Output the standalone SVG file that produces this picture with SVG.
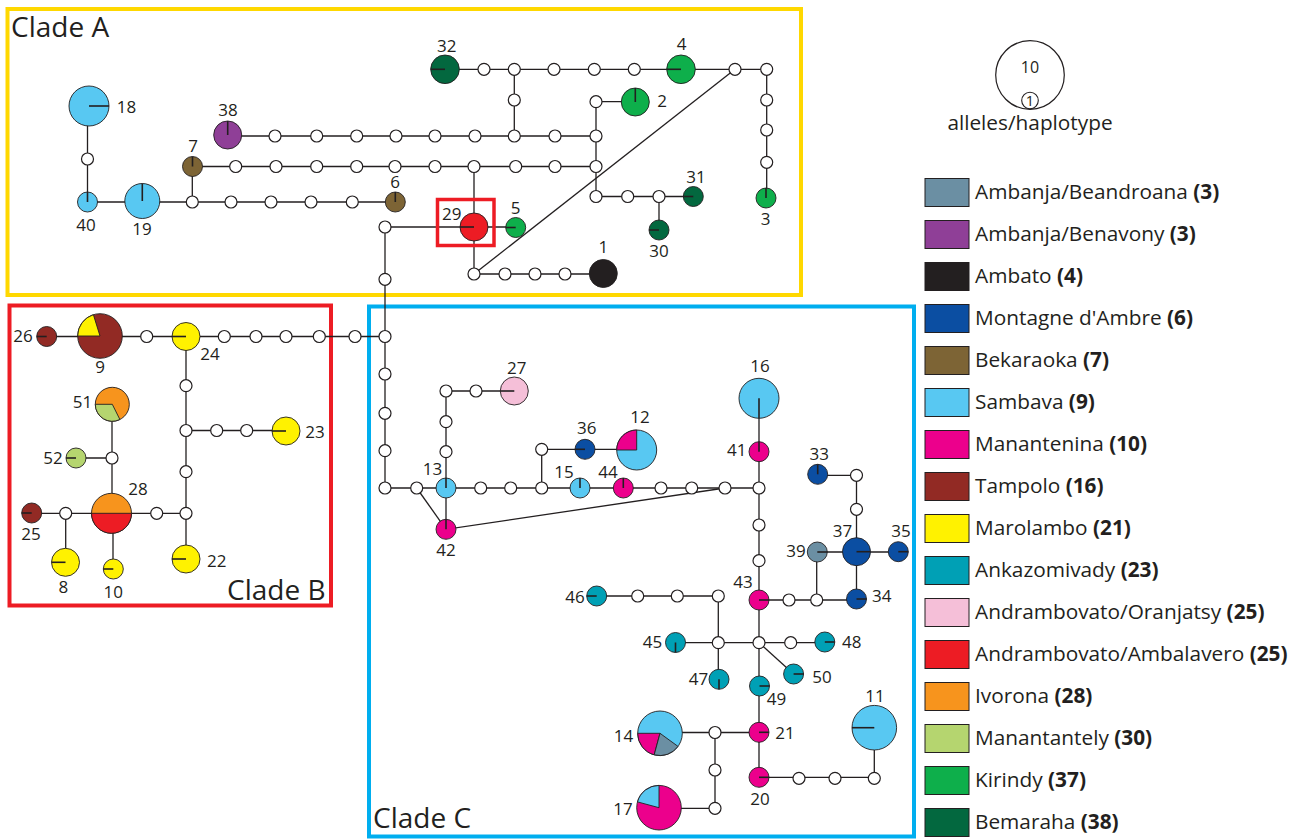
<svg xmlns="http://www.w3.org/2000/svg" xmlns:xlink="http://www.w3.org/1999/xlink" width="1297" height="840" viewBox="0 0 1297 840">
<style>
.c{stroke:#231F20;stroke-width:1.3;fill:none}
.w{fill:#fff;stroke:#231F20;stroke-width:1.2}
.n{stroke:#231F20;stroke-width:0.9}
.t{stroke:#231F20;stroke-width:1.6}
.lb{font-family:"Open Sans","Liberation Sans",sans-serif;font-size:17px;fill:#231F20;text-anchor:middle}
.cl{font-family:"Open Sans","Liberation Sans",sans-serif;font-size:28px;fill:#231F20}
.lg{font-family:"Open Sans","Liberation Sans",sans-serif;font-size:20.8px;fill:#231F20}
.lg tspan{font-weight:bold}
.sw{stroke:#231F20;stroke-width:1}
.bea{fill:#6B8FA3}.ben{fill:#8F3F97}.amb{fill:#231F20}.mon{fill:#0B4EA2}.bek{fill:#7D6435}.sam{fill:#58C8F2}.man{fill:#EC008C}.tam{fill:#922A24}.mar{fill:#FFF200}.ank{fill:#00A0B5}.ora{fill:#F5BFD8}.ama{fill:#ED1C24}.ivo{fill:#F7941D}.mtl{fill:#B5D56F}.kir{fill:#0EAF4B}.bem{fill:#03683F}
</style>
<defs>
<circle id="mv" cx="0" cy="0" r="6" class="w"/>
</defs>

<g id="clade-boxes" fill="none">
<rect x="7.5" y="9" width="793.5" height="286" stroke="#FFD800" stroke-width="4"/>
<rect x="9.5" y="305.5" width="321.5" height="300" stroke="#ED1C24" stroke-width="4"/>
<rect x="369" y="306.5" width="545" height="530" stroke="#00AEEF" stroke-width="4"/>
</g>

<g id="connectors" class="c">
<path d="M87.5,106V202H395.3"/>
<path d="M192.3,202V166.5H596"/>
<path d="M227.7,136H596"/>
<path d="M596,101.7V196.5H693.3"/>
<path d="M596,101.7H635.3"/>
<path d="M659,196.5V230"/>
<path d="M445,69.3H766.7V198"/>
<path d="M514.3,69.3V136"/>
<path d="M474,166.5V274H603.3"/>
<path d="M385,227H515.7"/>
<path d="M474,274L735,69.3"/>
<path d="M385,227V488"/>
<path d="M46.7,336.5H385"/>
<path d="M186,336.5V559"/>
<path d="M186,430.5H286"/>
<path d="M186,513.3H31.7"/>
<path d="M65.7,513.3V562.3"/>
<path d="M113,513.3V569"/>
<path d="M112,404.3V513.3"/>
<path d="M112,458H76"/>
<path d="M385,488H759"/>
<path d="M416.7,488L446,529.3"/>
<path d="M446,488V529.3L725,488"/>
<path d="M446,488V391H514.3"/>
<path d="M541.7,488V449.3H636.7"/>
<path d="M759,398.3V777.3H874.3V727.7"/>
<path d="M759,600H856.5"/>
<path d="M816.7,600V552H898.3"/>
<path d="M856.5,600V475.3H817.7"/>
<path d="M718.3,596H596.7"/>
<path d="M718.3,596V679.3"/>
<path d="M675.5,642.7H824.8"/>
<path d="M759,642.7L793.6,674"/>
<path d="M759,732.5H660"/>
<path d="M715,732.5V808.3H659"/>
</g>

<rect id="highlight-29" x="437.5" y="199.5" width="56.5" height="46" fill="none" stroke="#ED1C24" stroke-width="3.5"/>

<g id="median-vectors">
<use id="m1" xlink:href="#mv" x="87.5" y="159"/>
<use id="m2" xlink:href="#mv" x="192.3" y="202"/>
<use id="m3" xlink:href="#mv" x="231" y="202"/>
<use id="m4" xlink:href="#mv" x="271" y="202"/>
<use id="m5" xlink:href="#mv" x="311" y="202"/>
<use id="m6" xlink:href="#mv" x="352.3" y="202"/>
<use id="m7" xlink:href="#mv" x="235.7" y="166.5"/>
<use id="m8" xlink:href="#mv" x="276" y="166.5"/>
<use id="m9" xlink:href="#mv" x="316.7" y="166.5"/>
<use id="m10" xlink:href="#mv" x="356.7" y="166.5"/>
<use id="m11" xlink:href="#mv" x="395" y="166.5"/>
<use id="m12" xlink:href="#mv" x="435" y="166.5"/>
<use id="m13" xlink:href="#mv" x="474" y="166.5"/>
<use id="m14" xlink:href="#mv" x="515.7" y="166.5"/>
<use id="m15" xlink:href="#mv" x="555" y="166.5"/>
<use id="m16" xlink:href="#mv" x="596" y="166.5"/>
<use id="m17" xlink:href="#mv" x="275" y="136"/>
<use id="m18" xlink:href="#mv" x="316.7" y="136"/>
<use id="m19" xlink:href="#mv" x="356.7" y="136"/>
<use id="m20" xlink:href="#mv" x="396" y="136"/>
<use id="m21" xlink:href="#mv" x="435" y="136"/>
<use id="m22" xlink:href="#mv" x="475" y="136"/>
<use id="m23" xlink:href="#mv" x="514.3" y="136"/>
<use id="m24" xlink:href="#mv" x="555" y="136"/>
<use id="m25" xlink:href="#mv" x="596" y="136"/>
<use id="m26" xlink:href="#mv" x="484" y="69.3"/>
<use id="m27" xlink:href="#mv" x="514.3" y="69.3"/>
<use id="m28" xlink:href="#mv" x="554" y="69.3"/>
<use id="m29" xlink:href="#mv" x="594.3" y="69.3"/>
<use id="m30" xlink:href="#mv" x="634.3" y="69.3"/>
<use id="m31" xlink:href="#mv" x="735" y="69.3"/>
<use id="m32" xlink:href="#mv" x="766.7" y="69.3"/>
<use id="m33" xlink:href="#mv" x="514.3" y="100"/>
<use id="m34" xlink:href="#mv" x="766.7" y="100"/>
<use id="m35" xlink:href="#mv" x="766.7" y="130"/>
<use id="m36" xlink:href="#mv" x="766.7" y="162.3"/>
<use id="m37" xlink:href="#mv" x="596" y="101.7"/>
<use id="m38" xlink:href="#mv" x="596" y="196.5"/>
<use id="m39" xlink:href="#mv" x="627.7" y="196.5"/>
<use id="m40" xlink:href="#mv" x="659" y="196.5"/>
<use id="m41" xlink:href="#mv" x="385" y="227"/>
<use id="m42" xlink:href="#mv" x="385" y="279.3"/>
<use id="m43" xlink:href="#mv" x="474" y="274"/>
<use id="m44" xlink:href="#mv" x="505" y="274"/>
<use id="m45" xlink:href="#mv" x="535" y="274"/>
<use id="m46" xlink:href="#mv" x="565" y="274"/>
<use id="m47" xlink:href="#mv" x="146.7" y="336.5"/>
<use id="m48" xlink:href="#mv" x="224.3" y="336.5"/>
<use id="m49" xlink:href="#mv" x="256" y="336.5"/>
<use id="m50" xlink:href="#mv" x="286" y="336.5"/>
<use id="m51" xlink:href="#mv" x="319.3" y="336.5"/>
<use id="m52" xlink:href="#mv" x="355" y="336.5"/>
<use id="m53" xlink:href="#mv" x="186" y="385.7"/>
<use id="m54" xlink:href="#mv" x="186" y="430.5"/>
<use id="m55" xlink:href="#mv" x="216.7" y="430.5"/>
<use id="m56" xlink:href="#mv" x="246.7" y="430.5"/>
<use id="m57" xlink:href="#mv" x="186" y="471.7"/>
<use id="m58" xlink:href="#mv" x="186" y="513.3"/>
<use id="m59" xlink:href="#mv" x="156.7" y="513.3"/>
<use id="m60" xlink:href="#mv" x="65.7" y="513.3"/>
<use id="m61" xlink:href="#mv" x="112" y="458"/>
<use id="m62" xlink:href="#mv" x="385" y="336.5"/>
<use id="m63" xlink:href="#mv" x="385" y="374"/>
<use id="m64" xlink:href="#mv" x="385" y="413.3"/>
<use id="m65" xlink:href="#mv" x="385" y="450.7"/>
<use id="m66" xlink:href="#mv" x="385" y="488"/>
<use id="m67" xlink:href="#mv" x="416.7" y="488"/>
<use id="m68" xlink:href="#mv" x="480.7" y="488"/>
<use id="m69" xlink:href="#mv" x="510.7" y="488"/>
<use id="m70" xlink:href="#mv" x="541.7" y="488"/>
<use id="m71" xlink:href="#mv" x="661" y="488"/>
<use id="m72" xlink:href="#mv" x="691.7" y="488"/>
<use id="m73" xlink:href="#mv" x="725" y="488"/>
<use id="m74" xlink:href="#mv" x="759" y="488"/>
<use id="m75" xlink:href="#mv" x="446" y="451.7"/>
<use id="m76" xlink:href="#mv" x="446" y="421.7"/>
<use id="m77" xlink:href="#mv" x="446" y="391"/>
<use id="m78" xlink:href="#mv" x="476" y="391"/>
<use id="m79" xlink:href="#mv" x="541.7" y="449.3"/>
<use id="m80" xlink:href="#mv" x="759" y="525"/>
<use id="m81" xlink:href="#mv" x="759" y="560.7"/>
<use id="m82" xlink:href="#mv" x="856.5" y="475.3"/>
<use id="m83" xlink:href="#mv" x="856.5" y="509.3"/>
<use id="m84" xlink:href="#mv" x="789" y="600"/>
<use id="m85" xlink:href="#mv" x="816.7" y="600"/>
<use id="m86" xlink:href="#mv" x="637.7" y="596"/>
<use id="m87" xlink:href="#mv" x="677.3" y="596"/>
<use id="m88" xlink:href="#mv" x="718.3" y="596"/>
<use id="m89" xlink:href="#mv" x="718.3" y="642.7"/>
<use id="m90" xlink:href="#mv" x="759" y="642.7"/>
<use id="m91" xlink:href="#mv" x="790.7" y="642.7"/>
<use id="m92" xlink:href="#mv" x="715" y="732.5"/>
<use id="m93" xlink:href="#mv" x="715" y="770"/>
<use id="m94" xlink:href="#mv" x="715" y="808.3"/>
<use id="m95" xlink:href="#mv" x="799" y="778.3"/>
<use id="m96" xlink:href="#mv" x="835" y="778.3"/>
<use id="m97" xlink:href="#mv" x="874.3" y="778.3"/>
</g>

<g id="h18"><circle class="n sam" cx="89" cy="106" r="20"/><line class="t" x1="89" y1="106" x2="109" y2="106"/><text class="lb" x="126.5" y="112.5">18</text></g>
<g id="h40"><circle class="n sam" cx="87.5" cy="202" r="10"/><line class="t" x1="87.5" y1="202" x2="87.5" y2="192"/><text class="lb" x="86" y="231">40</text></g>
<g id="h19"><circle class="n sam" cx="142.3" cy="201" r="17.5"/><line class="t" x1="142.3" y1="201" x2="142.3" y2="183.5"/><text class="lb" x="142" y="235">19</text></g>
<g id="h7"><circle class="n bek" cx="192.5" cy="166.5" r="10"/><line class="t" x1="192.5" y1="166.5" x2="192.5" y2="156.5"/><text class="lb" x="193" y="152">7</text></g>
<g id="h38"><circle class="n ben" cx="227.7" cy="135" r="14"/><line class="t" x1="227.7" y1="135" x2="227.7" y2="121"/><text class="lb" x="228" y="115.7">38</text></g>
<g id="h6"><circle class="n bek" cx="395.3" cy="202" r="10"/><line class="t" x1="395.3" y1="202" x2="395.3" y2="192"/><text class="lb" x="395" y="188">6</text></g>
<g id="h32"><circle class="n bem" cx="445" cy="69.3" r="14.3"/><line class="t" x1="445" y1="69.3" x2="430.7" y2="69.3"/><text class="lb" x="446.7" y="51.7">32</text></g>
<g id="h4"><circle class="n kir" cx="681" cy="69.3" r="14.3"/><line class="t" x1="681" y1="69.3" x2="666.7" y2="69.3"/><text class="lb" x="681.7" y="50">4</text></g>
<g id="h2"><circle class="n kir" cx="635.3" cy="102" r="14"/><line class="t" x1="635.3" y1="102" x2="635.3" y2="88"/><text class="lb" x="662" y="107">2</text></g>
<g id="h3"><circle class="n kir" cx="766" cy="198" r="10"/><line class="t" x1="766" y1="198" x2="766" y2="188"/><text class="lb" x="765.7" y="225">3</text></g>
<g id="h31"><circle class="n bem" cx="693.3" cy="196.5" r="10"/><line class="t" x1="693.3" y1="196.5" x2="683.3" y2="196.5"/><text class="lb" x="696" y="182.7">31</text></g>
<g id="h30"><circle class="n bem" cx="659" cy="230" r="10"/><line class="t" x1="659" y1="230" x2="649" y2="230"/><text class="lb" x="659" y="257">30</text></g>
<g id="h29"><circle class="n ama" cx="474" cy="227" r="14"/><line class="t" x1="474" y1="227" x2="460" y2="227"/><text class="lb" x="451.7" y="220">29</text></g>
<g id="h5"><circle class="n kir" cx="515.7" cy="227.5" r="10"/><line class="t" x1="515.7" y1="227.5" x2="505.7" y2="227.5"/><text class="lb" x="515.7" y="214">5</text></g>
<g id="h1"><circle class="n amb" cx="603.3" cy="273.5" r="14"/><text class="lb" x="603.3" y="253">1</text></g>

<g id="h26"><circle class="n tam" cx="46.7" cy="336.5" r="10"/><line class="t" x1="46.7" y1="336.5" x2="36.7" y2="336.5"/><text class="lb" x="23" y="341.7">26</text></g>
<g id="h9"><circle class="n tam" cx="100" cy="336" r="22.3"/><path class="n mar" d="M100,336L77.7,336A22.3,22.3 0 0 1 93.4,314.7Z"/><text class="lb" x="100" y="373">9</text></g>
<g id="h24"><circle class="n mar" cx="186" cy="336.5" r="14"/><line class="t" x1="186" y1="336.5" x2="172" y2="336.5"/><text class="lb" x="210" y="360">24</text></g>
<g id="h23"><circle class="n mar" cx="286" cy="431" r="14"/><line class="t" x1="286" y1="431" x2="272" y2="431"/><text class="lb" x="315" y="437.7">23</text></g>
<g id="h51"><circle class="n ivo" cx="112.3" cy="404.3" r="17"/><path class="n mtl" d="M112.3,404.3L119.9,419.5A17,17 0 0 1 95.3,404.3Z"/><text class="lb" x="82.5" y="408.3">51</text></g>
<g id="h52"><circle class="n mtl" cx="76" cy="458" r="10"/><line class="t" x1="76" y1="458" x2="66" y2="458"/><text class="lb" x="53" y="464">52</text></g>
<g id="h28"><circle class="n ivo" cx="111.5" cy="513.3" r="20"/><path class="n ama" d="M91.5,513.3A20,20 0 0 0 131.5,513.3Z"/><text class="lb" x="138" y="495">28</text></g>
<g id="h25"><circle class="n tam" cx="31.7" cy="513" r="10"/><line class="t" x1="31.7" y1="513" x2="21.7" y2="513"/><text class="lb" x="31" y="540">25</text></g>
<g id="h8"><circle class="n mar" cx="65.5" cy="562.3" r="14"/><line class="t" x1="65.5" y1="562.3" x2="51.5" y2="562.3"/><text class="lb" x="63.3" y="593.3">8</text></g>
<g id="h10"><circle class="n mar" cx="113.3" cy="569" r="10"/><line class="t" x1="113.3" y1="569" x2="103.3" y2="569"/><text class="lb" x="113.3" y="598.3">10</text></g>
<g id="h22"><circle class="n mar" cx="186" cy="559" r="14"/><line class="t" x1="186" y1="559" x2="172" y2="559"/><text class="lb" x="216.7" y="566.7">22</text></g>

<g id="h27"><circle class="n ora" cx="514.3" cy="391" r="14"/><line class="t" x1="514.3" y1="391" x2="500.3" y2="391"/><text class="lb" x="516.7" y="374">27</text></g>
<g id="h13"><circle class="n sam" cx="446" cy="488" r="10"/><line class="t" x1="446" y1="488" x2="446" y2="478"/><text class="lb" x="432.5" y="475">13</text></g>
<g id="h15"><circle class="n sam" cx="580" cy="488" r="10"/><line class="t" x1="580" y1="488" x2="580" y2="478"/><text class="lb" x="564" y="478">15</text></g>
<g id="h44"><circle class="n man" cx="623.3" cy="488" r="10"/><line class="t" x1="623.3" y1="488" x2="623.3" y2="478"/><text class="lb" x="608" y="478">44</text></g>
<g id="h42"><circle class="n man" cx="446" cy="529.3" r="10"/><line class="t" x1="446" y1="529.3" x2="446" y2="519.3"/><text class="lb" x="446" y="556">42</text></g>
<g id="h36"><circle class="n mon" cx="585" cy="449.3" r="10"/><line class="t" x1="585" y1="449.3" x2="575" y2="449.3"/><text class="lb" x="586.7" y="434">36</text></g>
<g id="h12"><circle class="n sam" cx="636.7" cy="450" r="20"/><path class="n man" d="M636.7,450L616.7,450A20,20 0 0 1 636.7,430Z"/><text class="lb" x="640" y="423.3">12</text></g>
<g id="h16"><circle class="n sam" cx="759" cy="398.3" r="20"/><line class="t" x1="759" y1="398.3" x2="759" y2="418.3"/><text class="lb" x="760" y="372">16</text></g>
<g id="h41"><circle class="n man" cx="759" cy="451.7" r="10"/><line class="t" x1="759" y1="451.7" x2="759" y2="441.7"/><text class="lb" x="736.7" y="455.7">41</text></g>
<g id="h33"><circle class="n mon" cx="817.7" cy="474.3" r="10"/><line class="t" x1="817.7" y1="474.3" x2="817.7" y2="464.3"/><text class="lb" x="819.3" y="460">33</text></g>
<g id="h37"><circle class="n mon" cx="856.5" cy="551.7" r="14"/><line class="t" x1="856.5" y1="551.7" x2="870.5" y2="551.7"/><text class="lb" x="842.5" y="536.7">37</text></g>
<g id="h35"><circle class="n mon" cx="898.3" cy="551.7" r="10"/><line class="t" x1="898.3" y1="551.7" x2="908.3" y2="551.7"/><text class="lb" x="901" y="536.7">35</text></g>
<g id="h39"><circle class="n bea" cx="817.3" cy="552" r="10"/><line class="t" x1="817.3" y1="552" x2="827.3" y2="552"/><text class="lb" x="796" y="557.3">39</text></g>
<g id="h34"><circle class="n mon" cx="856.5" cy="599" r="10"/><line class="t" x1="856.5" y1="599" x2="866.5" y2="599"/><text class="lb" x="881.7" y="602.3">34</text></g>
<g id="h43"><circle class="n man" cx="759" cy="600" r="10"/><line class="t" x1="759" y1="600" x2="769" y2="600"/><text class="lb" x="743" y="588.3">43</text></g>
<g id="h46"><circle class="n ank" cx="596.7" cy="596" r="10"/><line class="t" x1="596.7" y1="596" x2="586.7" y2="596"/><text class="lb" x="575" y="602.5">46</text></g>
<g id="h45"><circle class="n ank" cx="675.5" cy="642.5" r="10"/><line class="t" x1="675.5" y1="642.5" x2="675.5" y2="652.5"/><text class="lb" x="652.5" y="648">45</text></g>
<g id="h47"><circle class="n ank" cx="719" cy="679.3" r="10"/><line class="t" x1="719" y1="679.3" x2="719" y2="689.3"/><text class="lb" x="698.5" y="684.7">47</text></g>
<g id="h48"><circle class="n ank" cx="824.8" cy="642" r="10"/><line class="t" x1="824.8" y1="642" x2="834.8" y2="642"/><text class="lb" x="851.8" y="647.7">48</text></g>
<g id="h50"><circle class="n ank" cx="793.6" cy="674" r="10"/><line class="t" x1="793.6" y1="674" x2="803.6" y2="674"/><text class="lb" x="822" y="683.3">50</text></g>
<g id="h49"><circle class="n ank" cx="759.5" cy="686" r="10"/><line class="t" x1="759.5" y1="686" x2="769.5" y2="686"/><text class="lb" x="776.5" y="705">49</text></g>
<g id="h21"><circle class="n man" cx="759" cy="732.3" r="10"/><line class="t" x1="759" y1="732.3" x2="769" y2="732.3"/><text class="lb" x="785" y="739">21</text></g>
<g id="h20"><circle class="n man" cx="759" cy="777.3" r="10"/><line class="t" x1="759" y1="777.3" x2="769" y2="777.3"/><text class="lb" x="760" y="805">20</text></g>
<g id="h14"><circle class="n sam" cx="660" cy="733.3" r="22.3"/><path class="n man" d="M660,733.3L654.2,754.8A22.3,22.3 0 0 1 637.7,733.3Z"/><path class="n bea" d="M660,733.3L678,746.4A22.3,22.3 0 0 1 654.2,754.8Z"/><text class="lb" x="623.5" y="741.7">14</text></g>
<g id="h17"><circle class="n man" cx="659" cy="807.7" r="22.3"/><path class="n sam" d="M659,807.7L637.5,801.9A22.3,22.3 0 0 1 659,785.4Z"/><text class="lb" x="623" y="815">17</text></g>
<g id="h11"><circle class="n sam" cx="874.3" cy="727.7" r="22.3"/><line class="t" x1="874.3" y1="727.7" x2="852" y2="727.7"/><text class="lb" x="875" y="701.5">11</text></g>

<g id="clade-labels">
<text class="cl" x="11" y="37">Clade A</text>
<text class="cl" x="227" y="600">Clade B</text>
<text class="cl" x="373" y="828">Clade C</text>
</g>

<g id="size-key">
<circle cx="1030" cy="75" r="34.3" fill="#fff" stroke="#231F20" stroke-width="1.2"/>
<circle cx="1030" cy="100.5" r="8.3" fill="none" stroke="#231F20" stroke-width="1.1"/>
<text class="lb" x="1030" y="73.3" style="font-size:16px">10</text>
<text class="lb" x="1030" y="106" style="font-size:14.5px">1</text>
<text class="lg" x="1030" y="130" text-anchor="middle">alleles/haplotype</text>
</g>

<g id="legend">
<rect class="sw bea" x="925" y="178.5" width="44" height="28"/><text class="lg" x="975" y="198.5">Ambanja/Beandroana <tspan>(3)</tspan></text>
<rect class="sw ben" x="925" y="220.5" width="44" height="28"/><text class="lg" x="975" y="240.5">Ambanja/Benavony <tspan>(3)</tspan></text>
<rect class="sw amb" x="925" y="262.5" width="44" height="28"/><text class="lg" x="975" y="282.5">Ambato <tspan>(4)</tspan></text>
<rect class="sw mon" x="925" y="304.5" width="44" height="28"/><text class="lg" x="975" y="324.5">Montagne d'Ambre <tspan>(6)</tspan></text>
<rect class="sw bek" x="925" y="346.5" width="44" height="28"/><text class="lg" x="975" y="366.5">Bekaraoka <tspan>(7)</tspan></text>
<rect class="sw sam" x="925" y="388.5" width="44" height="28"/><text class="lg" x="975" y="408.5">Sambava <tspan>(9)</tspan></text>
<rect class="sw man" x="925" y="430.5" width="44" height="28"/><text class="lg" x="975" y="450.5">Manantenina <tspan>(10)</tspan></text>
<rect class="sw tam" x="925" y="472.5" width="44" height="28"/><text class="lg" x="975" y="492.5">Tampolo <tspan>(16)</tspan></text>
<rect class="sw mar" x="925" y="514.5" width="44" height="28"/><text class="lg" x="975" y="534.5">Marolambo <tspan>(21)</tspan></text>
<rect class="sw ank" x="925" y="556.5" width="44" height="28"/><text class="lg" x="975" y="576.5">Ankazomivady <tspan>(23)</tspan></text>
<rect class="sw ora" x="925" y="598.5" width="44" height="28"/><text class="lg" x="975" y="618.5">Andrambovato/Oranjatsy <tspan>(25)</tspan></text>
<rect class="sw ama" x="925" y="640.5" width="44" height="28"/><text class="lg" x="975" y="660.5">Andrambovato/Ambalavero <tspan>(25)</tspan></text>
<rect class="sw ivo" x="925" y="682.5" width="44" height="28"/><text class="lg" x="975" y="702.5">Ivorona <tspan>(28)</tspan></text>
<rect class="sw mtl" x="925" y="724.5" width="44" height="28"/><text class="lg" x="975" y="744.5">Manantantely <tspan>(30)</tspan></text>
<rect class="sw kir" x="925" y="766.5" width="44" height="28"/><text class="lg" x="975" y="786.5">Kirindy <tspan>(37)</tspan></text>
<rect class="sw bem" x="925" y="808.5" width="44" height="28"/><text class="lg" x="975" y="828.5">Bemaraha <tspan>(38)</tspan></text>
</g>
</svg>
